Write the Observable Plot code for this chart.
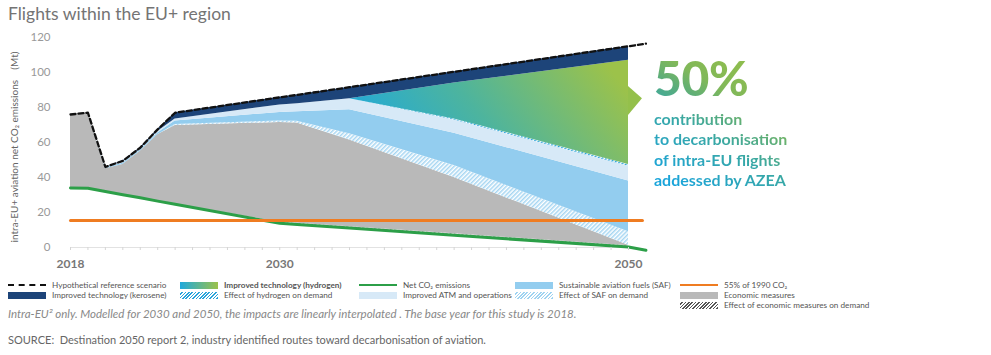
<!DOCTYPE html>
<html><head><meta charset="utf-8">
<script src="https://cdn.jsdelivr.net/npm/d3@7"></script>
<script src="https://cdn.jsdelivr.net/npm/@observablehq/plot@0.6"></script>
<style>
body{margin:0;background:#fff;font-family:Lato,"Open Sans",sans-serif;}
#wrap{position:relative;width:991px;height:355px;overflow:hidden;background:#fff;}
#title{position:absolute;left:8px;top:4px;font-size:17.5px;line-height:20px;color:#747474;white-space:nowrap;}
#chart{position:absolute;left:0;top:0;}
#ylab{position:absolute;left:14px;top:147px;transform:translate(-50%,-50%) rotate(-90deg);white-space:pre;font-size:10px;color:#666;}
#callout{position:absolute;left:654px;top:50px;width:180px;height:145px;}
#callout div{position:absolute;left:0;width:180px;white-space:nowrap;font-weight:900;color:transparent;
 background-image:linear-gradient(30deg,#14a3dc 0%,#1aa4d9 10%,#2fa6b7 27%,#38a8a6 36%,#5aad7c 48%,#80b85a 58%,#8cbc50 70%,#9cc244 100%);
 background-size:180px 145px;background-repeat:no-repeat;
 -webkit-background-clip:text;background-clip:text;}
#callout .pct{font-size:48px;line-height:47px;height:47px;letter-spacing:-0.3px;}
#callout .cl{font-size:16px;line-height:20px;height:20px;font-weight:700;}
.lg{position:absolute;font-size:8.2px;color:#555;white-space:nowrap;line-height:10px;}
.sw{position:absolute;width:38px;height:7px;}
#note{position:absolute;left:8px;top:307px;font-size:11.5px;font-style:italic;color:#888;white-space:nowrap;}
#source{position:absolute;left:8px;top:333px;font-size:11px;color:#666;white-space:nowrap;}
</style></head>
<body>
<div id="wrap">
  <div id="title"></div>
  <div id="chart"></div>
  <div id="ylab"></div>
  <div id="callout"></div>
  <div id="legend"></div>
  <div id="note"></div>
  <div id="source"></div>
</div>
<script>
// ---- texts ----
const titleText = "Flights within the EU+ region";
const yLabelText = "intra-EU+ aviation net CO\u2082 emissions\u00a0\u00a0\u00a0\u00a0(Mt)";
const calloutBig = "50%";
const calloutLines = ["contribution", "to decarbonisation", "of intra-EU flights", "addessed by AZEA"];
const noteText = "Intra-EU\u00b2 only. Modelled for 2030 and 2050, the impacts are linearly interpolated . The base year for this study is 2018.";
const sourceText = "SOURCE:\u00a0 Destination 2050 report 2, industry identified routes toward decarbonisation of aviation.";

// ---- data (Mt CO2) ----
const years =         [2018, 2019, 2020, 2021, 2022, 2023, 2024, 2030, 2031, 2034, 2040, 2050];
const netCO2 =        [34,   33.8, 32.0, 30.2, 28.4, 26.5, 24.7, 13.8, 13.1, 11.1, 7.0,  0.3];
const econDemandTop = [34,   33.8, 32.0, 30.2, 28.4, 26.5, 24.7, 14.5, 13.8, 11.8, 7.8,  1.0];
const economicTop =   [76,   77,   45.0, 47.5, 55.0, 64.5, 69.7, 71.5, 71.2, 61.5, 40.0, 1.3];
const safDemandTop =  [76,   77,   45.0, 47.5, 55.0, 64.5, 70.3, 72.3, 72.1, 65.0, 46.8, 9.0];
const safTop =        [76,   77,   45.6, 48.2, 55.7, 65.5, 72.3, 77.2, 77.6, 78.7, 65.3, 38.0];
const atmTop =        [76,   77,   46.0, 48.8, 56.3, 66.3, 73.5, 81.5, 82.2, 85.0, 72.8, 46.5];
const h2DemandTop =   [76,   77,   46.0, 48.8, 56.3, 66.3, 73.5, 81.5, 82.2, 85.0, 73.5, 47.5];
const h2Top =         [76,   77,   46.0, 48.8, 56.3, 66.3, 73.5, 81.5, 82.2, 85.0, 94.0, 107.0];
const reference =     [76,   77,   46.0, 49.5, 57.0, 67.5, 77.0, 85.8, 87.2, 91.6, 100.4, 115.0];
const extYear = 2051;
const refExt = 116.5;
const netExt = -1.6;
const target55 = 15.4;            // 55% of 1990 CO2
const targetYears = [2018, 2050.8];
const arrowYears = [2050, 2050.8];
const arrowLow = [75.4, 85];
const arrowHigh = [92, 85];
const yTicks = [0, 20, 40, 60, 80, 100, 120];
const xTickLabels = [2018, 2030, 2050];

// legend
const legendLabels = [
  ["Hypothetical reference scenario", "Improved technology (kerosene)"],
  ["Improved technology (hydrogen)", "Effect of hydrogen on demand"],
  ["Net CO\u2082 emissions", "Improved ATM and operations"],
  ["Sustainable aviation fuels (SAF)", "Effect of SAF on demand"],
  ["55% of 1990 CO\u2082", "Economic measures", "Effect of economic measures on demand"]
];

// colours
const C = {
  navy: "#1d4479", gray: "#b9b9b9", saf: "#93cdef", atm: "#d7e9f7",
  green: "#2c9f48", orange: "#ef7c21", arrow: "#94c04b", h2hatch: "#29a3da"
};

const rows = years.map((year, i) => ({
  year, net: netCO2[i], econ: econDemandTop[i], gray: economicTop[i], safD: safDemandTop[i],
  saf: safTop[i], atm: atmTop[i], h2D: h2DemandTop[i], h2: h2Top[i], ref: reference[i]
}));
const h2rows = rows.filter(d => d.h2 > d.h2D || d.year === 2034);
const refLine = rows.map(d => ({year: d.year, v: d.ref})).concat([{year: extYear, v: refExt}]);
const netLine = rows.map(d => ({year: d.year, v: d.net})).concat([{year: extYear, v: netExt}]);
const targetLine = targetYears.map(year => ({year, v: target55}));
const arrowRows = arrowYears.map((year, i) => ({year, lo: arrowLow[i], hi: arrowHigh[i]}));

const plot = Plot.plot({
  width: 991, height: 275,
  marginTop: 37, marginBottom: 28, marginLeft: 70, marginRight: 363,
  style: {fontFamily: "Lato, sans-serif", fontSize: "11.5px", background: "transparent"},
  x: {domain: [2018, 2050]},
  y: {domain: [0, 120]},
  marks: [
    Plot.areaY(rows, {x: "year", y1: "net", y2: "econ", fill: "url(#hEcon)"}),
    Plot.areaY(rows, {x: "year", y1: "econ", y2: "gray", fill: C.gray}),
    Plot.areaY(rows, {x: "year", y1: "gray", y2: "safD", fill: "url(#hSaf)"}),
    Plot.areaY(rows, {x: "year", y1: "safD", y2: "saf", fill: C.saf}),
    Plot.areaY(rows, {x: "year", y1: "saf", y2: "atm", fill: C.atm}),
    Plot.areaY(rows, {x: "year", y1: "atm", y2: "h2D", fill: "url(#hH2)"}),
    Plot.areaY(h2rows, {x: "year", y1: "h2D", y2: "h2", fill: "url(#gH2)"}),
    Plot.areaY(arrowRows, {x: "year", y1: "lo", y2: "hi", fill: C.arrow}),
    Plot.areaY(rows, {x: "year", y1: "h2", y2: "ref", fill: C.navy}),
    Plot.ruleY([0], {stroke: "#e2e2e2"}),
    Plot.lineY(netLine, {x: "year", y: "v", stroke: C.green, strokeWidth: 3}),
    Plot.lineY(targetLine, {x: "year", y: "v", stroke: C.orange, strokeWidth: 3}),
    Plot.lineY(refLine, {x: "year", y: "v", stroke: "#111", strokeWidth: 2.3, strokeDasharray: "5,3"}),
    Plot.axisX({ticks: d3.range(2018, 2051), tickSize: 3, tickPadding: 9, stroke: "#d5d5d5", fill: "#777",
      fontWeight: "bold", fontSize: 12, tickFormat: d => xTickLabels.includes(d) ? String(d) : "", label: null}),
    Plot.axisY({ticks: yTicks, tickSize: 0, tickPadding: 20, fill: "#999", label: null})
  ]
});

plot.insertAdjacentHTML("afterbegin", `
<defs>
  <linearGradient id="gH2" x1="0" y1="0.6" x2="1" y2="0.3">
    <stop offset="0" stop-color="#1fa9dc"/>
    <stop offset="0.45" stop-color="#4db49e"/>
    <stop offset="1" stop-color="#9cc24a"/>
  </linearGradient>
  <pattern id="hSaf" patternUnits="userSpaceOnUse" width="3" height="3" patternTransform="rotate(45)">
    <rect width="3" height="3" fill="#ffffff"/><rect width="1.5" height="3" fill="#a6d6f2"/>
  </pattern>
  <pattern id="hH2" patternUnits="userSpaceOnUse" width="3" height="3" patternTransform="rotate(45)">
    <rect width="3" height="3" fill="#ffffff"/><rect width="1.5" height="3" fill="${C.h2hatch}"/>
  </pattern>
  <pattern id="hEcon" patternUnits="userSpaceOnUse" width="3" height="3" patternTransform="rotate(45)">
    <rect width="3" height="3" fill="#ffffff"/><rect width="1.5" height="3" fill="#9a9a9a"/>
  </pattern>
</defs>`);
document.getElementById("chart").appendChild(plot);

document.getElementById("title").textContent = titleText;
document.getElementById("ylab").textContent = yLabelText;
document.getElementById("note").textContent = noteText;
document.getElementById("source").textContent = sourceText;

// callout: each line carries the same gradient, offset to its own position
const co = document.getElementById("callout");
const big = document.createElement("div");
const bigTop = 4;
big.className = "pct"; big.textContent = calloutBig;
big.style.top = bigTop + "px";
big.style.backgroundPosition = "0px " + (-bigTop) + "px";
co.appendChild(big);
calloutLines.forEach((t, i) => {
  const d = document.createElement("div");
  const top = 58.5 + i * 20.5;
  d.className = "cl"; d.textContent = t; d.style.top = top + "px";
  d.style.backgroundPosition = "0px " + (-top) + "px";
  co.appendChild(d);
});

// legend
const colX = [8, 180, 359, 515, 680];
const rowY = [285, 295.5, 305.5];
const hatch = c => `repeating-linear-gradient(135deg, #fff 0 1.2px, ${c} 1.2px 2.4px)`;
const swatches = [
  [{type: "dash"}, {bg: C.navy}],
  [{bg: "linear-gradient(90deg,#1fa9dc,#9cc24a)"}, {bg: hatch(C.h2hatch)}],
  [{line: C.green}, {bg: C.atm}],
  [{bg: C.saf}, {bg: hatch("#9fd3f1")}],
  [{line: C.orange}, {bg: C.gray}, {bg: hatch("#555")}]
];
const lg = document.getElementById("legend");
legendLabels.forEach((col, ci) => {
  col.forEach((label, ri) => {
    const s = swatches[ci][ri];
    const cy = rowY[ri];
    const sw = document.createElement("div");
    sw.className = "sw";
    sw.style.left = colX[ci] + "px";
    if (s.type === "dash") {
      sw.style.height = "0px"; sw.style.top = (cy - 1.2) + "px";
      sw.style.borderTop = "2.5px dashed #111";
    } else if (s.line) {
      sw.style.height = "2.5px"; sw.style.top = (cy - 1.2) + "px"; sw.style.background = s.line;
    } else {
      sw.style.top = (cy - 3.5) + "px"; sw.style.background = s.bg;
    }
    lg.appendChild(sw);
    const t = document.createElement("div");
    t.className = "lg";
    t.style.left = (colX[ci] + 44) + "px";
    t.style.top = (cy - 5.5) + "px";
    if (ci === 1 && ri === 0) t.style.fontWeight = "bold";
    t.textContent = label;
    lg.appendChild(t);
  });
});
</script>
</body></html>
